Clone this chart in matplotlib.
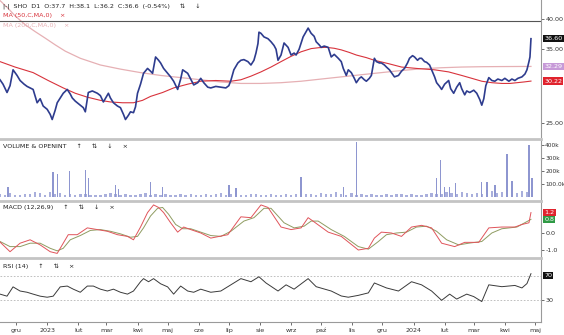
import pandas as pd
import matplotlib
matplotlib.use("Agg")
import matplotlib.pyplot as plt
import matplotlib.transforms as mtransforms
from matplotlib.ticker import NullLocator

# ==============================
# DATA (day offsets from START)
# ==============================

START = pd.Timestamp("2022-11-15")
END = pd.Timestamp("2024-05-07")

price_day = [0, 3, 7, 10, 13, 17, 20, 24, 27, 30,
             33, 37, 40, 43, 47, 50, 52, 55, 57, 60,
             63, 67, 70, 72, 75, 80, 83, 85, 88, 92,
             97, 100, 103, 108, 110, 113, 117, 120, 123, 125,
             128, 130, 133, 135, 137, 140, 143, 147, 150, 152,
             155, 158, 160, 163, 167, 170, 173, 177, 180, 182,
             187, 190, 193, 197, 200, 203, 207, 210, 215, 220,
             225, 228, 230, 233, 237, 240, 243, 247, 250, 253,
             255, 257, 258, 260, 263, 267, 270, 273, 275, 277,
             280, 283, 287, 290, 293, 295, 298, 302, 305, 307,
             310, 313, 315, 318, 320, 323, 327, 330, 333, 337,
             340, 342, 345, 347, 350, 353, 355, 358, 360, 363,
             365, 368, 370, 373, 375, 378, 380, 383, 385, 388,
             390, 393, 397, 400, 403, 406, 408, 411, 413, 416,
             418, 420, 423, 425, 428, 430, 433, 435, 438, 440,
             443, 447, 449, 452, 455, 458, 460, 463, 465, 468,
             472, 475, 478, 480, 482, 484, 487, 490, 493, 496,
             500, 503, 507, 510, 513, 516, 520, 523, 525, 527,
             528, 529]

price_close = [30.4, 29.8, 28.7, 29.6, 31.8, 31.0, 30.3, 29.8, 29.5, 29.3,
               29.1, 27.4, 27.9, 27.0, 26.6, 26.0, 25.4, 26.5, 27.4, 28.0,
               28.6, 29.1, 28.5, 28.0, 27.6, 27.1, 26.8, 26.3, 28.7, 28.9,
               28.6, 28.3, 27.5, 28.6, 28.0, 27.4, 27.0, 26.8, 26.0, 25.4,
               25.9, 26.3, 26.2, 26.9, 28.6, 29.8, 31.3, 32.0, 31.6, 31.3,
               33.7, 33.2, 32.8, 32.0, 31.3, 30.8, 30.2, 29.1, 30.5, 31.8,
               31.3, 30.5, 29.7, 30.0, 30.6, 30.0, 29.4, 29.3, 29.5, 29.4,
               29.3, 29.6, 30.3, 31.8, 32.8, 33.2, 33.3, 33.0, 32.5, 33.2,
               34.3, 35.8, 37.7, 37.5, 36.9, 36.6, 36.1, 35.5, 34.9, 33.2,
               34.0, 35.9, 35.2, 34.0, 34.3, 34.0, 34.9, 36.9, 37.8, 38.4,
               37.5, 37.0, 36.1, 35.6, 35.2, 35.4, 35.2, 33.7, 34.1, 33.5,
               33.0, 32.0, 31.0, 31.8, 31.4, 30.6, 30.0, 30.6, 30.8, 30.4,
               30.2, 30.6, 31.0, 33.5, 33.0, 32.8, 32.8, 32.5, 32.2, 31.8,
               31.4, 30.8, 31.0, 31.6, 32.0, 32.8, 33.5, 33.9, 33.7, 33.2,
               33.5, 33.5, 33.0, 32.9, 32.5, 31.8, 30.8, 30.0, 29.5, 29.1,
               29.8, 30.3, 29.2, 28.6, 29.4, 30.0, 29.2, 28.4, 28.9, 28.7,
               29.0, 28.6, 27.8, 27.1, 27.9, 29.6, 30.7, 30.3, 30.2, 30.5,
               30.3, 30.6, 30.2, 30.5, 30.3, 30.6, 30.8, 31.2, 31.8, 33.0,
               33.7, 36.6]

ma50_day = [0, 15, 33, 48, 63, 75, 87, 100, 110, 122, 133, 142, 150, 162,
            173, 187, 200, 215, 230, 240, 250, 260, 270, 280, 290, 300, 310,
            318, 325, 333, 340, 348, 355, 365, 373, 387, 400, 415, 433, 447,
            460, 470, 480, 490, 500, 508, 515, 522, 529]
ma50 = [33.0, 32.2, 31.4, 30.3, 29.3, 28.6, 28.1, 27.7, 27.5, 27.4, 27.4,
        27.7, 28.2, 28.7, 29.3, 29.8, 30.2, 30.3, 30.2, 30.4, 30.9, 31.5,
        32.2, 33.0, 33.8, 34.5, 35.0, 35.15, 35.2, 35.05, 34.8, 34.4, 34.0,
        33.6, 33.2, 32.7, 32.2, 32.0, 31.8, 31.5, 31.0, 30.6, 30.2, 30.0,
        29.9, 29.9, 30.0, 30.1, 30.22]

ma200_day = [0, 8, 15, 25, 35, 45, 55, 65, 80, 100, 120, 140, 160, 180,
             200, 220, 240, 260, 280, 300, 320, 340, 360, 380, 400, 420, 440,
             460, 480, 500, 529]
ma200 = [43.5, 42.0, 40.6, 39.0, 37.8, 36.7, 35.6, 34.6, 33.5, 32.5, 31.9,
         31.4, 31.0, 30.7, 30.4, 30.1, 29.9, 29.9, 30.0, 30.2, 30.5, 30.8,
         31.1, 31.4, 31.7, 31.95, 32.1, 32.2, 32.25, 32.27, 32.29]

# volume in thousands, one base bar every 5 days
vol_base = [22, 15, 30, 18, 12, 25, 20, 35, 28, 16,
            40, 22, 30, 18, 25, 14, 20, 26, 12, 18,
            15, 22, 30, 20, 16, 25, 12, 18, 22, 28,
            15, 20, 12, 24, 18, 14, 20, 16, 22, 12,
            18, 26, 14, 20, 30, 16, 22, 12, 18, 15,
            20, 25, 14, 18, 22, 16, 12, 20, 15, 24,
            18, 22, 26, 16, 30, 20, 25, 35, 22, 18,
            28, 15, 20, 12, 22, 16, 18, 25, 14, 20,
            24, 16, 22, 18, 12, 20, 30, 25, 20, 35,
            28, 22, 40, 30, 25, 32, 20, 28, 45, 30,
            35, 25, 40, 30, 45, 38]
spike_day = [8, 53, 57, 69, 85, 88, 115, 118, 150, 162, 228, 235, 300,
             342, 355, 435, 439, 443, 448, 454, 480, 485, 493, 505, 510,
             527, 530]
spike_k = [80, 190, 180, 200, 210, 150, 95, 65, 118, 80, 90, 70, 157,
           75, 425, 150, 290, 80, 80, 110, 118, 115, 95, 330, 120, 400, 150]

macd_day = [0, 10, 20, 30, 40, 50, 57, 63, 68, 77, 87, 97, 107, 117, 127,
            133, 140, 147, 153, 158, 163, 170, 177, 183, 190, 200, 210, 227,
            240, 250, 260, 267, 280, 290, 300, 307, 313, 327, 340, 357, 367,
            373, 380, 390, 400, 410, 420, 430, 440, 453, 463, 477, 487, 500,
            513, 520, 527, 529]
macd = [-0.53, -1.1, -0.6, -0.4, -0.7, -1.1, -1.2, -0.6, -0.1, -0.1, 0.3,
        0.2, 0.1, -0.1, -0.2, -0.4, 0.35, 1.2, 1.65, 1.5, 1.2, 0.6, 0.05,
        0.35, 0.2, 0.0, -0.3, -0.1, 0.95, 0.9, 1.65, 1.5, 0.35, 0.2, 0.3,
        0.9, 0.65, 0.05, -0.2, -1.0, -0.9, -0.3, 0.05, 0.0, -0.2, 0.35,
        0.45, 0.3, -0.6, -0.8, -0.55, -0.55, 0.3, 0.35, 0.35, 0.5, 0.6, 1.2]

signal_day = [0, 10, 20, 30, 40, 50, 57, 63, 70, 80, 90, 100, 110, 120,
              130, 137, 143, 150, 157, 162, 168, 175, 182, 190, 200, 210,
              220, 230, 243, 253, 263, 270, 283, 293, 303, 310, 317, 330,
              343, 357, 367, 377, 385, 395, 405, 415, 425, 435, 445, 457,
              467, 480, 490, 500, 515, 529]
signal = [-0.5, -0.8, -0.8, -0.6, -0.6, -0.9, -1.05, -0.9, -0.4, -0.15,
          0.15, 0.2, 0.1, -0.05, -0.25, -0.2, 0.3, 1.0, 1.45, 1.5, 1.1, 0.5,
          0.25, 0.25, 0.05, -0.15, -0.2, 0.1, 0.7, 0.9, 1.45, 1.45, 0.6,
          0.3, 0.4, 0.7, 0.7, 0.2, -0.2, -0.8, -0.95, -0.5, -0.1, 0.0,
          0.05, 0.35, 0.4, 0.1, -0.4, -0.7, -0.6, -0.5, 0.0, 0.25, 0.35, 0.8]

rsi_day = [0, 7, 13, 20, 27, 33, 40, 47, 53, 60, 67, 73, 80, 87, 93, 100,
           107, 113, 120, 127, 133, 140, 143, 148, 153, 160, 167, 173, 180,
           187, 193, 200, 210, 220, 230, 240, 250, 258, 265, 277, 285, 293,
           307, 315, 330, 340, 347, 357, 367, 373, 385, 397, 410, 420, 430,
           440, 448, 455, 465, 472, 480, 487, 500, 513, 520, 525, 529]
rsi = [40, 36.7, 51.7, 45, 43, 40, 36.7, 35, 36.7, 51.7, 53, 48, 43, 53,
       53, 48, 45, 48, 43, 40, 45, 60, 65, 60, 65, 56.7, 51.7, 40, 53, 45,
       43, 48, 43, 45, 55, 65, 60, 68, 58, 45, 55, 48, 65, 52, 45, 37, 35,
       38, 42, 58, 50, 45, 60, 55, 45, 30, 40, 32, 40, 36, 28, 55, 52, 54,
       50, 57, 73]

month_starts = ["2022-12-01", "2023-01-01", "2023-02-01", "2023-03-01",
                "2023-04-01", "2023-05-01", "2023-06-01", "2023-07-01",
                "2023-08-01", "2023-09-01", "2023-10-01", "2023-11-01",
                "2023-12-01", "2024-01-01", "2024-02-01", "2024-03-01",
                "2024-04-01", "2024-05-01"]
month_labels = ["gru", "2023", "lut", "mar", "kwi", "maj", "cze", "lip",
                "sie", "wrz", "paź", "lis", "gru", "2024", "lut", "mar",
                "kwi", "maj"]


def to_dates(days):
    return START + pd.to_timedelta(days, unit="D")


# ==============================
# LAYOUT
# ==============================

W_PX, H_PX = 564, 335
FS = 4.6
GRID_GREY = "#c4c4c4"
AX_GREY = "#9a9a9a"


def panel(fig, top, bottom):
    ax = fig.add_axes([0, 1 - bottom / H_PX, 541 / W_PX, (bottom - top) / H_PX])
    ax.set_xlim(START, END)
    ax.yaxis.tick_right()
    ax.tick_params(axis="y", labelsize=FS, length=2, width=0.5,
                   colors="#333333", pad=1.2)
    ax.tick_params(axis="x", bottom=False, labelbottom=False)
    ax.spines["left"].set_visible(False)
    ax.spines["bottom"].set_visible(False)
    ax.spines["right"].set_color(AX_GREY)
    ax.spines["right"].set_linewidth(0.8)
    ax.spines["top"].set_color(GRID_GREY)
    ax.spines["top"].set_linewidth(2.0)
    return ax


def value_box(ax, y, text, color):
    trans = mtransforms.blended_transform_factory(ax.transAxes, ax.transData)
    ax.text(1.006, y, text, transform=trans, ha="left", va="center",
            fontsize=FS, color="white", clip_on=False,
            bbox=dict(boxstyle="square,pad=0.18", fc=color, ec="none"))


def fig_label(y_px, text, color="#222222"):
    plt.gcf().text(3 / W_PX, 1 - y_px / H_PX, text, fontsize=FS,
                   color=color, va="center", ha="left")


# ==============================
# CHART
# ==============================

def main():

    fig = plt.figure(figsize=(W_PX / 100, H_PX / 100), dpi=100)
    fig.patch.set_facecolor("white")

    # ---- price panel
    ax_p = panel(fig, 0, 137)
    ax_p.spines["top"].set_visible(False)
    ax_p.set_yscale("log")
    ax_p.set_ylim(23.47, 43.6)
    ax_p.plot(to_dates(ma200_day), ma200, color="#e6b0b4", lw=0.9)
    ax_p.plot(to_dates(ma50_day), ma50, color="#d8333c", lw=0.8)
    ax_p.plot(to_dates(price_day), price_close, color="#2e3c8e", lw=1.2)
    ax_p.axhline(39.7, color="#555555", lw=0.8)
    ax_p.yaxis.set_major_locator(plt.FixedLocator([25, 35, 40]))
    ax_p.yaxis.set_minor_locator(NullLocator())
    ax_p.set_yticklabels(["25.00", "35.00", "40.00"])
    value_box(ax_p, 36.6, "36.60", "#111111")
    value_box(ax_p, 32.29, "32.29", "#c79ad8")
    value_box(ax_p, 30.22, "30.22", "#e0232d")

    fig_label(6, "|-|  SHO  D1  O:37.7  H:38.1  L:36.2  C:36.6  (-0.54%)     ⇅     ↓")
    fig_label(15, "MA (50,C,MA,0)    ×", color="#d8333c")
    fig_label(25, "MA (200,C,MA,0)    ×", color="#e6b0b4")

    # ---- volume panel
    ax_v = panel(fig, 139, 200)
    base_dates = pd.date_range(START, periods=len(vol_base), freq="5D")
    ax_v.bar(base_dates, vol_base, width=2.4, color="#a9afdc", lw=0)
    ax_v.bar(to_dates(spike_day), spike_k, width=1.4, color="#8e96d0", lw=0)
    ax_v.set_ylim(-24, 449)
    ax_v.set_yticks([100, 200, 300, 400])
    ax_v.set_yticklabels(["100.0k", "200k", "300k", "400k"])
    ax_v.tick_params(axis="y", labelsize=4.2, pad=1.0)
    fig_label(146, "VOLUME & OPENINT     ↑     ⇅     ↓     ×")

    # ---- MACD panel
    ax_m = panel(fig, 201, 258)
    ax_m.set_ylim(-1.47, 1.88)
    ax_m.plot(to_dates(signal_day), signal, color="#8f9c62", lw=0.7)
    ax_m.plot(to_dates(macd_day), macd, color="#e0545a", lw=0.7)
    ax_m.set_yticks([-1.0, 0.0])
    ax_m.set_yticklabels(["-1.0", "0.0"])
    value_box(ax_m, 1.2, "1.2", "#e0232d")
    value_box(ax_m, 0.8, "0.8", "#2f9a45")
    fig_label(207, "MACD (12,26,9)     ↑     ⇅     ↓     ×")

    # ---- RSI panel
    ax_r = panel(fig, 258, 322)
    ax_r.set_ylim(-5, 98.3)
    ax_r.axhline(70, color="#b5b5b5", lw=0.6, ls=(0, (2, 2)))
    ax_r.axhline(30, color="#b5b5b5", lw=0.6, ls=(0, (2, 2)))
    ax_r.plot(to_dates(rsi_day), rsi, color="#3a3a3a", lw=0.7)
    ax_r.set_yticks([30])
    ax_r.set_yticklabels(["30"])
    value_box(ax_r, 70, "70", "#111111")
    fig_label(266, "RSI (14)     ↑     ⇅     ×")

    ax_r.spines["bottom"].set_visible(True)
    ax_r.spines["bottom"].set_color(AX_GREY)
    ax_r.spines["bottom"].set_linewidth(0.8)
    ax_r.set_xticks(pd.to_datetime(month_starts))
    ax_r.set_xticklabels(month_labels)
    ax_r.tick_params(axis="x", bottom=True, labelbottom=True, labelsize=FS,
                     length=2, width=0.5, colors="#333333", pad=2)

    fig.savefig("out.png", dpi=100, facecolor="white")


if __name__ == "__main__":
    main()
